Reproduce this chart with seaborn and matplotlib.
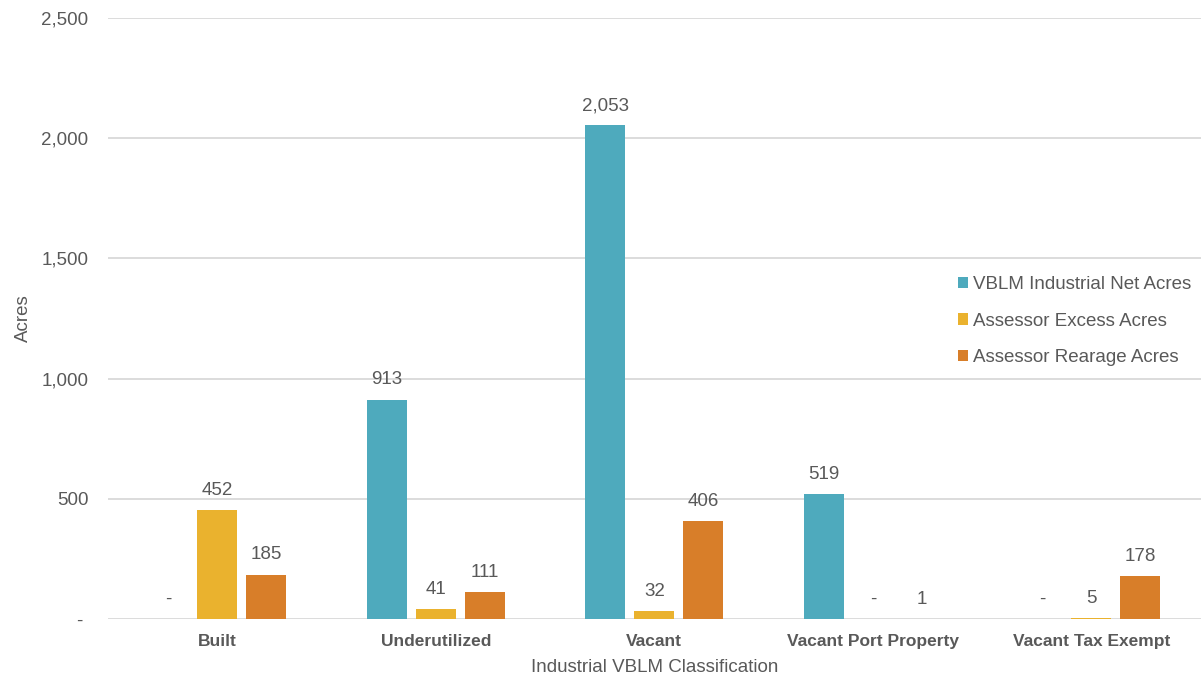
import matplotlib
matplotlib.use("Agg")
import matplotlib.pyplot as plt
import seaborn as sns
import pandas as pd

# Acreage by industrial VBLM classification
categories = ["Built", "Underutilized", "Vacant", "Vacant Port Property", "Vacant Tax Exempt"]
series_names = ["VBLM Industrial Net Acres", "Assessor Excess Acres", "Assessor Rearage Acres"]
vblm_net = [0, 913, 2053, 519, 0]
excess = [452, 41, 32, 0, 5]
rearage = [185, 111, 406, 1, 178]
y_ticks = [0, 500, 1000, 1500, 2000, 2500]

colors = ["#4EAABD", "#EAB22E", "#D87E29"]
text_color = "#595959"
grid_color = "#D9D9D9"

rows = []
for name, vals in zip(series_names, [vblm_net, excess, rearage]):
    for cat, v in zip(categories, vals):
        rows.append({"Classification": cat, "Series": name, "Acres": v})
df = pd.DataFrame(rows)

sns.set_theme(style="white")
plt.rcParams["font.family"] = ["Liberation Sans", "DejaVu Sans"]

fig = plt.figure(figsize=(12.02, 6.8), dpi=100)
ax = fig.add_axes([0.0899, 0.0897, 0.909, 0.8838])

sns.barplot(
    data=df, x="Classification", y="Acres", hue="Series",
    order=categories, hue_order=series_names, palette=colors,
    saturation=1, width=0.672, gap=0.18, edgecolor="none", linewidth=0,
    errorbar=None, ax=ax,
)


def fmt_num(v):
    return "-" if round(v) == 0 else f"{v:,.0f}"


for cont in ax.containers:
    ax.bar_label(cont, labels=[fmt_num(b.get_height()) for b in cont],
                 padding=8, fontsize=13.5, color=text_color)

ax.set_ylim(0, 2500)
ax.set_xlim(-0.5, len(categories) - 0.5)
ax.set_yticks(y_ticks)
ax.set_yticklabels(["- " if t == 0 else f"{t:,}" for t in y_ticks])
ax.yaxis.grid(True, color=grid_color, linewidth=1.3)
ax.set_axisbelow(True)
for s in ax.spines.values():
    s.set_visible(False)

ax.tick_params(axis="y", length=0, pad=14, labelsize=13.5, labelcolor=text_color)
ax.tick_params(axis="x", length=0, pad=11, labelsize=12.5, labelcolor=text_color)
for lbl in ax.get_xticklabels():
    lbl.set_fontweight("bold")

ax.set_xlabel("Industrial VBLM Classification", fontsize=13.5, color=text_color, labelpad=7)
ax.set_ylabel("Acres", fontsize=13.5, color=text_color)
ax.yaxis.set_label_coords(-0.070, 0.5)

ax.legend(
    loc="upper left", bbox_to_anchor=(0.797, 0.594), bbox_transform=fig.transFigure,
    frameon=False, fontsize=13.5, labelcolor=text_color,
    handlelength=0.55, handleheight=0.55, handletextpad=0.25,
    labelspacing=1.05, borderpad=0, borderaxespad=0,
)

fig.savefig("out.png", dpi=100)
